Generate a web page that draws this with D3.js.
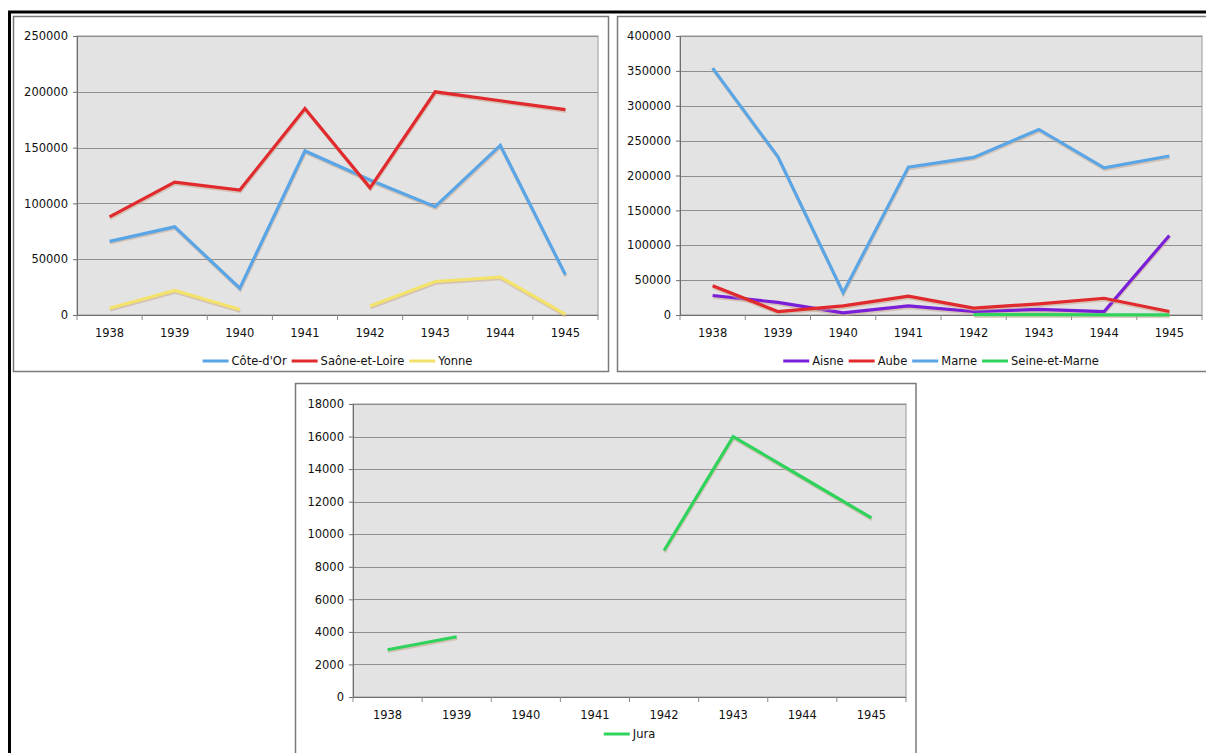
<!DOCTYPE html>
<html>
<head>
<meta charset="utf-8">
<script src="https://cdn.jsdelivr.net/npm/d3@7"></script>
<style>
  html, body { margin: 0; padding: 0; background: #fff; }
  svg text { font-family: "DejaVu Sans", Verdana, sans-serif; font-size: 11.5px; fill: #111; }
</style>
</head>
<body>
<svg id="chart" width="1206" height="753"></svg>
<script>
// ---- Data ----
const years = ["1938", "1939", "1940", "1941", "1942", "1943", "1944", "1945"];

// Panel 1
const coteDor      = [66000, 79000, 24000, 147000, 121000, 97000, 152000, 36000];
const saoneEtLoire = [88000, 119000, 112000, 185000, 114000, 200000, 192000, 184000];
const yonne        = [6000, 22000, 5000, null, 8000, 30000, 34000, 500];
const ticks1       = [0, 50000, 100000, 150000, 200000, 250000];

// Panel 2
const aisne        = [28000, 18000, 3000, 13000, 5000, 8000, 5000, 114000];
const aube         = [42000, 5000, 13000, 27000, 10000, 16000, 24000, 5000];
const marne        = [354000, 227000, 32000, 212000, 226000, 266000, 211000, 228000];
const seineEtMarne = [null, null, null, null, 500, 500, 300, 200];
const ticks2       = [0, 50000, 100000, 150000, 200000, 250000, 300000, 350000, 400000];

// Panel 3
const jura         = [2900, 3700, null, null, 9000, 16000, 13500, 11000];
const ticks3       = [0, 2000, 4000, 6000, 8000, 10000, 12000, 14000, 16000, 18000];

// ---- Styles ----
const COLORS = {
  blue: "#5aa5e6", red: "#e02a2e", yellow: "#f3e36a",
  purple: "#7a1fd8", green: "#2fd35c"
};
const FONT = "'DejaVu Sans', Verdana, sans-serif";

const svg = d3.select("#chart");

// outer black frame (top and left)
svg.append("line").attr("x1", 8).attr("x2", 1206).attr("y1", 12).attr("y2", 12)
  .attr("stroke", "#000").attr("stroke-width", 3);
svg.append("line").attr("x1", 9.5).attr("x2", 9.5).attr("y1", 11).attr("y2", 753)
  .attr("stroke", "#000").attr("stroke-width", 3);

function drawPanel(cfg) {
  const g = svg.append("g");
  // panel frame
  g.append("rect")
    .attr("x", cfg.frame[0]).attr("y", cfg.frame[1])
    .attr("width", cfg.frame[2]).attr("height", cfg.frame[3])
    .attr("fill", "#fff").attr("stroke", "#7a7a7a").attr("stroke-width", 1.5);

  const [x0, y0, x1, y1] = cfg.plot;
  const x = d3.scaleBand().domain(years).range([x0, x1]).padding(0);
  const y = d3.scaleLinear().domain([0, d3.max(cfg.ticks)]).range([y1, y0]);

  // plot background
  g.append("rect").attr("x", x0).attr("y", y0).attr("width", x1 - x0).attr("height", y1 - y0)
    .attr("fill", "#e3e3e3").attr("stroke", "#9a9a9a").attr("stroke-width", 1);

  // gridlines
  g.append("g").selectAll("line").data(cfg.ticks.filter(t => t > 0)).join("line")
    .attr("x1", x0).attr("x2", x1)
    .attr("y1", d => Math.round(y(d)) + 0.5).attr("y2", d => Math.round(y(d)) + 0.5)
    .attr("stroke", "#8f8f8f").attr("stroke-width", 1);

  // y axis
  const yAxis = g.append("g").attr("transform", `translate(${x0},0)`)
    .call(d3.axisLeft(y).tickValues(cfg.ticks).tickFormat(d3.format("d")).tickSize(4).tickPadding(5));
  yAxis.select(".domain").attr("stroke", "#6e6e6e");
  yAxis.selectAll(".tick line").attr("stroke", "#6e6e6e");
  yAxis.selectAll("text").attr("fill", "#111").style("font-size", "11.5px").style("font-family", FONT);

  // x axis: ticks at band boundaries, labels at band centers
  const xg = g.append("g").attr("transform", `translate(0,${y1})`);
  xg.append("line").attr("x1", x0).attr("x2", x1).attr("y1", 0.5).attr("y2", 0.5).attr("stroke", "#6e6e6e");
  const bounds = years.map(d => x(d)).concat([x1]);
  xg.selectAll("line.tk").data(bounds).join("line").attr("class", "tk")
    .attr("x1", d => d).attr("x2", d => d).attr("y1", 0).attr("y2", 5).attr("stroke", "#8a8a8a");
  xg.selectAll("text").data(years).join("text")
    .attr("x", d => x(d) + x.bandwidth() / 2).attr("y", 22)
    .attr("text-anchor", "middle").text(d => d);

  const cx = d => x(d) + x.bandwidth() / 2;

  // series
  cfg.series.forEach(s => {
    const pts = years.map((yr, i) => ({ yr, v: s.values[i] }));
    const line = d3.line().defined(d => d.v != null).x(d => cx(d.yr)).y(d => y(d.v));
    g.append("path").datum(pts).attr("d", line)
      .attr("transform", "translate(0.5,1.8)")
      .attr("fill", "none").attr("stroke", "#c9a88f").attr("stroke-opacity", 0.55)
      .attr("stroke-width", 3).attr("stroke-linejoin", "miter");
    g.append("path").datum(pts).attr("d", line)
      .attr("fill", "none").attr("stroke", s.color)
      .attr("stroke-width", 3.2).attr("stroke-linejoin", "miter");
  });

  // legend centered under plot area
  const lg = g.append("g");
  let cur = 0;
  cfg.series.forEach(s => {
    const it = lg.append("g");
    it.append("line").attr("x1", 0).attr("x2", 26).attr("y1", 0).attr("y2", 0)
      .attr("stroke", s.color).attr("stroke-width", 3);
    const t = it.append("text").attr("x", 29).attr("y", 4).text(s.name);
    const w = 29 + t.node().getComputedTextLength();
    it.attr("transform", `translate(${cur},0)`);
    cur += w + 5;
  });
  const total = cur - 5;
  lg.attr("transform", `translate(${(x0 + x1) / 2 - total / 2},${cfg.legendY})`);
}

drawPanel({
  frame: [13.5, 16.5, 595, 355],
  plot: [77, 36, 598, 315],
  ticks: ticks1,
  legendY: 361,
  series: [
    { name: "Côte-d'Or", values: coteDor, color: COLORS.blue },
    { name: "Saône-et-Loire", values: saoneEtLoire, color: COLORS.red },
    { name: "Yonne", values: yonne, color: COLORS.yellow }
  ]
});

drawPanel({
  frame: [617.5, 16.5, 600, 355],
  plot: [680, 36, 1202, 315],
  ticks: ticks2,
  legendY: 361,
  series: [
    { name: "Aisne", values: aisne, color: COLORS.purple },
    { name: "Aube", values: aube, color: COLORS.red },
    { name: "Marne", values: marne, color: COLORS.blue },
    { name: "Seine-et-Marne", values: seineEtMarne, color: COLORS.green }
  ]
});

drawPanel({
  frame: [295.5, 383.5, 620.5, 380],
  plot: [353, 404, 906, 697],
  ticks: ticks3,
  legendY: 734,
  series: [
    { name: "Jura", values: jura, color: COLORS.green }
  ]
});
</script>
</body>
</html>
